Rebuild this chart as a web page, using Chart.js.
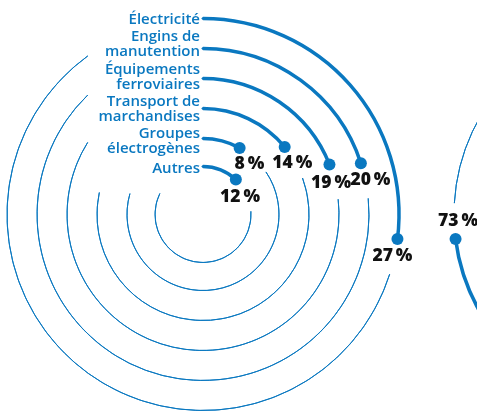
<!DOCTYPE html>
<html>
<head>
<meta charset="utf-8">
<script src="https://cdn.jsdelivr.net/npm/chart.js@4.4.0/dist/chart.umd.min.js"></script>
<style>
  html, body { margin: 0; padding: 0; background: #fff; overflow: hidden; }
  #wrap { position: relative; width: 477px; height: 412px; overflow: hidden; }
  #sourcesChart { position: absolute; left: 0; top: 0; }
  #enginesChart { position: absolute; left: 400px; top: 0; }
</style>
</head>
<body>
<div id="wrap">
  <canvas id="sourcesChart" width="477" height="412"></canvas>
  <canvas id="enginesChart" width="500" height="412"></canvas>
</div>
<script>
// Rings, outermost first
const categories = [
    ['Électricité'],
    ['Engins de', 'manutention'],
    ['Équipements', 'ferroviaires'],
    ['Transport de', 'marchandises'],
    ['Groupes', 'électrogènes'],
    ['Autres']
];
const shares = [27, 20, 19, 14, 8, 12];
const otherShares = [73];

// Layout
const BLUE = '#0a78c0';
const CLEAR = 'rgba(0,0,0,0)';
const ringRadius = [196, 166, 136, 106, 76, 48];
const thinStopDeg = [324, 316, 302, 282, 286, 296];
const labelDy = [1, 3, 6, 8, 10, 2];
const pctDr = [-2, 5, -4, -3, -7, -7];
const LABEL_GAP = 36; // arc length kept free for the percent label

function ringDataset(value, r, stopDeg, lines, dr) {
    const gap = LABEL_GAP / (2 * Math.PI * r) * 100;
    const stop = stopDeg / 3.6;
    return {
        data: [value, gap, stop - value - gap, 100 - stop],
        weight: 0.001,
        isRing: true,
        share: value,
        lines: lines,
        pctDr: dr,
        backgroundColor: CLEAR,
        borderColor: [BLUE, CLEAR, BLUE, CLEAR],
        borderWidth: [3.5, 0, 1, 0],
        borderAlign: 'center'
    };
}

function spacer(w) {
    return { data: [100], weight: w, backgroundColor: CLEAR, borderWidth: 0 };
}

function pct(v) {
    return v + '\u2009%';
}

const ringLabels = {
    id: 'ringLabels',
    afterDatasetsDraw(chart) {
        const ctx = chart.ctx;
        let k = 0;
        chart.data.datasets.forEach((ds, i) => {
            if (!ds.isRing) return;
            const meta = chart.getDatasetMeta(i);
            const thick = meta.data[0];
            const gapArc = meta.data[1];
            const r = thick.outerRadius;
            const a = thick.endAngle;
            const mid = (gapArc.startAngle + gapArc.endAngle) / 2;
            const rl = r + ds.pctDr;

            ctx.save();
            // end dot
            ctx.fillStyle = BLUE;
            ctx.beginPath();
            ctx.arc(thick.x + r * Math.cos(a), thick.y + r * Math.sin(a), 6, 0, Math.PI * 2);
            ctx.fill();

            // percent
            ctx.fillStyle = '#111';
            ctx.font = '800 17.5px "Open Sans"';
            ctx.textAlign = 'center';
            ctx.textBaseline = 'middle';
            ctx.fillText(pct(ds.share), thick.x + rl * Math.cos(mid), thick.y + rl * Math.sin(mid));

            // category name, left of the ring top
            if (ds.lines) {
                ctx.fillStyle = BLUE;
                ctx.font = '600 15px "Open Sans"';
                ctx.textAlign = 'right';
                const yTop = thick.y - r + labelDy[k];
                const n = ds.lines.length;
                ds.lines.forEach((line, j) => {
                    ctx.fillText(line, thick.x - 3, yTop - (n - 1 - j) * 14.5);
                });
            }
            ctx.restore();
            k++;
        });
    }
};

function baseOptions(padding) {
    return {
        responsive: false,
        animation: false,
        events: [],
        radius: 196,
        cutout: (48 / 196 * 100) + '%',
        layout: { padding: padding },
        plugins: { legend: { display: false }, tooltip: { enabled: false } }
    };
}

// Sources chart
const sourceSets = [];
shares.forEach((v, i) => {
    sourceSets.push(ringDataset(v, ringRadius[i], thinStopDeg[i], categories[i], pctDr[i]));
    if (i < shares.length - 1) sourceSets.push(spacer(ringRadius[i] - ringRadius[i + 1] - 0.001));
});

new Chart(document.getElementById('sourcesChart'), {
    type: 'doughnut',
    data: { labels: ['', '', '', ''], datasets: sourceSets },
    options: baseOptions({ left: 0, right: 71, top: 17, bottom: 0 }),
    plugins: [ringLabels]
});

// Second chart, mostly off the right edge
new Chart(document.getElementById('enginesChart'), {
    type: 'doughnut',
    data: {
        labels: ['', '', '', ''],
        datasets: [ringDataset(otherShares[0], 196, 360, null, -4), spacer(148)]
    },
    options: baseOptions({ left: 0, right: 0, top: 17, bottom: 0 }),
    plugins: [ringLabels]
});
</script>
</body>
</html>
